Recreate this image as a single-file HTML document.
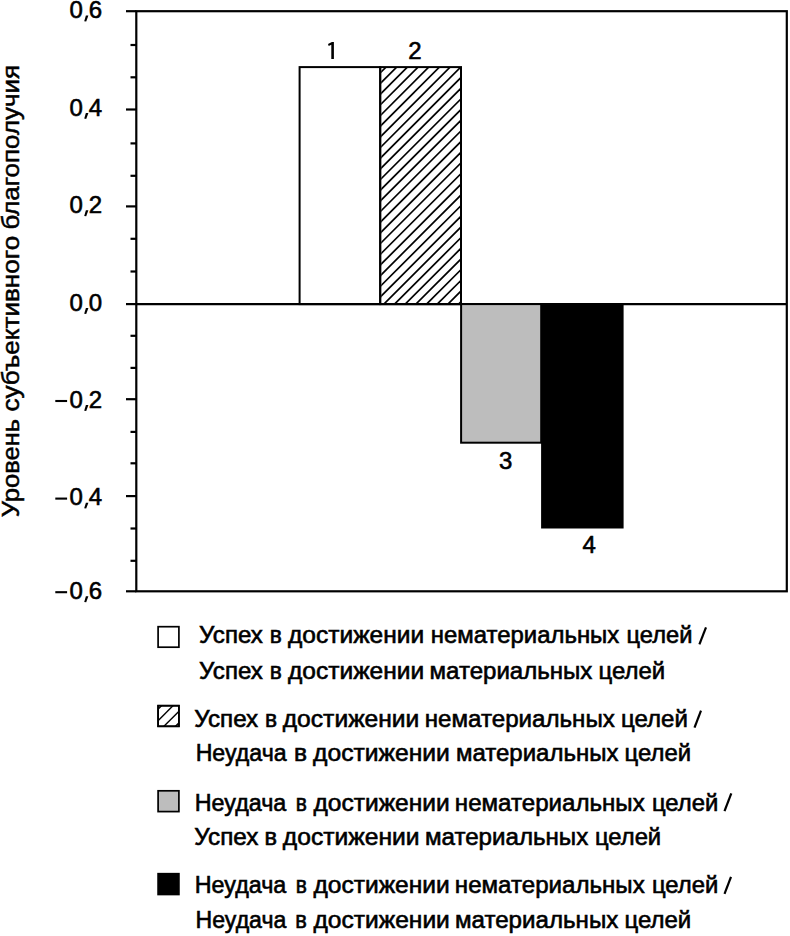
<!DOCTYPE html><html><head><meta charset="utf-8"><style>html,body{margin:0;padding:0;background:#fff;width:790px;height:936px;overflow:hidden}svg{display:block}text{font-family:"Liberation Sans", sans-serif;fill:#000}</style></head><body><svg width="790" height="936" viewBox="0 0 790 936"><defs><clipPath id="c2"><rect x="381.2" y="68.1" width="78.8" height="235"/></clipPath><clipPath id="lc2"><rect x="158.1" y="705.6" width="20.9" height="20.8"/></clipPath></defs><g stroke="#000" stroke-width="2.2" fill="none" stroke-linecap="butt"><rect x="136.3" y="11.2" width="650.5" height="580.1"/><line x1="126" y1="11.2" x2="136.3" y2="11.2"/><line x1="126" y1="109.5" x2="136.3" y2="109.5"/><line x1="126" y1="206.4" x2="136.3" y2="206.4"/><line x1="126" y1="304.1" x2="136.3" y2="304.1"/><line x1="126" y1="399.2" x2="136.3" y2="399.2"/><line x1="126" y1="496.1" x2="136.3" y2="496.1"/><line x1="126" y1="591.3" x2="136.3" y2="591.3"/><line x1="130.5" y1="45" x2="136.3" y2="45"/><line x1="130.5" y1="77.3" x2="136.3" y2="77.3"/><line x1="130.5" y1="143.4" x2="136.3" y2="143.4"/><line x1="130.5" y1="175.8" x2="136.3" y2="175.8"/><line x1="130.5" y1="238.8" x2="136.3" y2="238.8"/><line x1="130.5" y1="271.5" x2="136.3" y2="271.5"/><line x1="130.5" y1="335.8" x2="136.3" y2="335.8"/><line x1="130.5" y1="367.9" x2="136.3" y2="367.9"/><line x1="130.5" y1="431.9" x2="136.3" y2="431.9"/><line x1="130.5" y1="463.3" x2="136.3" y2="463.3"/><line x1="130.5" y1="528.5" x2="136.3" y2="528.5"/><line x1="130.5" y1="560.8" x2="136.3" y2="560.8"/><line x1="136.3" y1="304.1" x2="786.8" y2="304.1"/></g><rect x="299.6" y="67.1" width="80.6" height="237" fill="#fff" stroke="#000" stroke-width="2"/><g clip-path="url(#c2)" stroke="#000" stroke-width="1.7"><line x1="370" y1="83.12" x2="470" y2="-16.88"/><line x1="370" y1="93.80" x2="470" y2="-6.20"/><line x1="370" y1="104.48" x2="470" y2="4.48"/><line x1="370" y1="115.15" x2="470" y2="15.15"/><line x1="370" y1="125.83" x2="470" y2="25.83"/><line x1="370" y1="136.50" x2="470" y2="36.50"/><line x1="370" y1="147.18" x2="470" y2="47.18"/><line x1="370" y1="157.85" x2="470" y2="57.85"/><line x1="370" y1="168.52" x2="470" y2="68.52"/><line x1="370" y1="179.20" x2="470" y2="79.20"/><line x1="370" y1="189.87" x2="470" y2="89.87"/><line x1="370" y1="200.55" x2="470" y2="100.55"/><line x1="370" y1="211.22" x2="470" y2="111.22"/><line x1="370" y1="221.90" x2="470" y2="121.90"/><line x1="370" y1="232.57" x2="470" y2="132.57"/><line x1="370" y1="243.25" x2="470" y2="143.25"/><line x1="370" y1="253.92" x2="470" y2="153.92"/><line x1="370" y1="264.60" x2="470" y2="164.60"/><line x1="370" y1="275.27" x2="470" y2="175.27"/><line x1="370" y1="285.95" x2="470" y2="185.95"/><line x1="370" y1="296.62" x2="470" y2="196.62"/><line x1="370" y1="307.30" x2="470" y2="207.30"/><line x1="370" y1="317.97" x2="470" y2="217.97"/><line x1="370" y1="328.65" x2="470" y2="228.65"/><line x1="370" y1="339.32" x2="470" y2="239.32"/><line x1="370" y1="350.00" x2="470" y2="250.00"/><line x1="370" y1="360.67" x2="470" y2="260.67"/><line x1="370" y1="371.35" x2="470" y2="271.35"/><line x1="370" y1="382.02" x2="470" y2="282.02"/><line x1="370" y1="392.70" x2="470" y2="292.70"/><line x1="370" y1="403.37" x2="470" y2="303.37"/></g><rect x="380.2" y="67.1" width="80.8" height="237" fill="none" stroke="#000" stroke-width="2"/><rect x="461.1" y="304.1" width="80.1" height="138.6" fill="#bdbdbd" stroke="#000" stroke-width="2"/><rect x="542.1" y="304.1" width="80.5" height="223.4" fill="#000" stroke="#000" stroke-width="2"/><line x1="136.3" y1="304.1" x2="786.8" y2="304.1" stroke="#000" stroke-width="2"/><path d="M331.3 58.9 L333.9 58.9 L333.9 42.0 L331.9 42.0 L328.0 44.0 L328.7 46.1 L331.3 44.7 Z" fill="#000"/><text x="415" y="58.8" font-size="24" text-anchor="middle" stroke="#000" stroke-width="0.6">2</text><text x="505.6" y="469" font-size="24" text-anchor="middle" stroke="#000" stroke-width="0.6">3</text><text x="589.2" y="552.6" font-size="24" text-anchor="middle" stroke="#000" stroke-width="0.6">4</text><g font-size="24" text-anchor="middle" stroke="#000" stroke-width="0.6"><text x="76.3" y="18.2">0</text><text x="95.45" y="18.2">6</text></g><path d="M85.9 15.60 L88.4 15.60 L86.2 21.50 L84.2 21.20 Z"/><g font-size="24" text-anchor="middle" stroke="#000" stroke-width="0.6"><text x="76.3" y="115.6">0</text><text x="95.45" y="115.6">4</text></g><path d="M85.9 113.00 L88.4 113.00 L86.2 118.90 L84.2 118.60 Z"/><g font-size="24" text-anchor="middle" stroke="#000" stroke-width="0.6"><text x="76.3" y="212.9">0</text><text x="95.45" y="212.9">2</text></g><path d="M85.9 210.30 L88.4 210.30 L86.2 216.20 L84.2 215.90 Z"/><g font-size="24" text-anchor="middle" stroke="#000" stroke-width="0.6"><text x="76.3" y="310.7">0</text><text x="95.45" y="310.7">0</text></g><path d="M85.9 308.10 L88.4 308.10 L86.2 314.00 L84.2 313.70 Z"/><g font-size="24" text-anchor="middle" stroke="#000" stroke-width="0.6"><text x="76.3" y="407.7">0</text><text x="95.45" y="407.7">2</text></g><path d="M85.9 405.10 L88.4 405.10 L86.2 411.00 L84.2 410.70 Z"/><rect x="55.3" y="399.95" width="11.8" height="2.1"/><g font-size="24" text-anchor="middle" stroke="#000" stroke-width="0.6"><text x="76.3" y="505.3">0</text><text x="95.45" y="505.3">4</text></g><path d="M85.9 502.70 L88.4 502.70 L86.2 508.60 L84.2 508.30 Z"/><rect x="55.3" y="497.55" width="11.8" height="2.1"/><g font-size="24" text-anchor="middle" stroke="#000" stroke-width="0.6"><text x="76.3" y="598.9">0</text><text x="95.45" y="598.9">6</text></g><path d="M85.9 596.30 L88.4 596.30 L86.2 602.20 L84.2 601.90 Z"/><rect x="55.3" y="591.15" width="11.8" height="2.1"/><text transform="translate(19.1,517.32) rotate(-90)" x="0" y="0" font-size="24" stroke="#000" stroke-width="0.5" textLength="98.49" lengthAdjust="spacingAndGlyphs">Уровень</text><text transform="translate(19.1,411.50) rotate(-90)" x="0" y="0" font-size="24" stroke="#000" stroke-width="0.5" textLength="175.69" lengthAdjust="spacingAndGlyphs">субъективного</text><text transform="translate(19.1,229.55) rotate(-90)" x="0" y="0" font-size="24" stroke="#000" stroke-width="0.5" textLength="164.61" lengthAdjust="spacingAndGlyphs">благополучия</text><g stroke="#000" stroke-width="1.7"><rect x="158.1" y="626.7" width="20.8" height="20.5" fill="#fff"/><rect x="158.1" y="705.7" width="20.8" height="20.6" fill="#fff"/><rect x="158.1" y="790.8" width="20.8" height="20.8" fill="#bdbdbd"/><rect x="158.1" y="873.7" width="20.8" height="20.8" fill="#000"/></g><g clip-path="url(#lc2)" stroke="#000" stroke-width="1.4"><line x1="150" y1="717.20" x2="190" y2="677.20"/><line x1="150" y1="728.70" x2="190" y2="688.70"/><line x1="150" y1="740.20" x2="190" y2="700.20"/><line x1="150" y1="751.70" x2="190" y2="711.70"/></g><rect x="158.1" y="705.7" width="20.8" height="20.6" fill="none" stroke="#000" stroke-width="1.7"/><text x="199.13" y="643.21" font-size="23.5" stroke="#000" stroke-width="0.6" textLength="63.74" lengthAdjust="spacingAndGlyphs">Успех</text><text x="269.87" y="643.21" font-size="23.5" stroke="#000" stroke-width="0.6" textLength="12.08" lengthAdjust="spacingAndGlyphs">в</text><text x="288.07" y="643.21" font-size="23.5" stroke="#000" stroke-width="0.6" textLength="136.02" lengthAdjust="spacingAndGlyphs">достижении</text><text x="430.72" y="643.21" font-size="23.5" stroke="#000" stroke-width="0.6" textLength="188.58" lengthAdjust="spacingAndGlyphs">нематериальных</text><text x="626.53" y="643.21" font-size="23.5" stroke="#000" stroke-width="0.6" textLength="65.85" lengthAdjust="spacingAndGlyphs">целей</text><text x="199.13" y="678.51" font-size="23.5" stroke="#000" stroke-width="0.6" textLength="63.74" lengthAdjust="spacingAndGlyphs">Успех</text><text x="269.87" y="678.51" font-size="23.5" stroke="#000" stroke-width="0.6" textLength="12.08" lengthAdjust="spacingAndGlyphs">в</text><text x="288.07" y="678.51" font-size="23.5" stroke="#000" stroke-width="0.6" textLength="136.02" lengthAdjust="spacingAndGlyphs">достижении</text><text x="429.56" y="678.51" font-size="23.5" stroke="#000" stroke-width="0.6" textLength="162.78" lengthAdjust="spacingAndGlyphs">материальных</text><text x="598.51" y="678.51" font-size="23.5" stroke="#000" stroke-width="0.6" textLength="66.71" lengthAdjust="spacingAndGlyphs">целей</text><text x="194.26" y="726.91" font-size="23.5" stroke="#000" stroke-width="0.6" textLength="63.89" lengthAdjust="spacingAndGlyphs">Успех</text><text x="264.90" y="726.91" font-size="23.5" stroke="#000" stroke-width="0.6" textLength="12.10" lengthAdjust="spacingAndGlyphs">в</text><text x="282.77" y="726.91" font-size="23.5" stroke="#000" stroke-width="0.6" textLength="136.60" lengthAdjust="spacingAndGlyphs">достижении</text><text x="424.76" y="726.91" font-size="23.5" stroke="#000" stroke-width="0.6" textLength="190.03" lengthAdjust="spacingAndGlyphs">нематериальных</text><text x="621.02" y="726.91" font-size="23.5" stroke="#000" stroke-width="0.6" textLength="66.91" lengthAdjust="spacingAndGlyphs">целей</text><text x="195.67" y="761.40" font-size="23.5" stroke="#000" stroke-width="0.6" textLength="90.91" lengthAdjust="spacingAndGlyphs">Неудача</text><text x="294.11" y="761.40" font-size="23.5" stroke="#000" stroke-width="0.6" textLength="13.03" lengthAdjust="spacingAndGlyphs">в</text><text x="313.09" y="761.40" font-size="23.5" stroke="#000" stroke-width="0.6" textLength="136.82" lengthAdjust="spacingAndGlyphs">достижении</text><text x="455.93" y="761.40" font-size="23.5" stroke="#000" stroke-width="0.6" textLength="162.51" lengthAdjust="spacingAndGlyphs">материальных</text><text x="624.57" y="761.40" font-size="23.5" stroke="#000" stroke-width="0.6" textLength="66.49" lengthAdjust="spacingAndGlyphs">целей</text><text x="194.72" y="810.75" font-size="23.5" stroke="#000" stroke-width="0.6" textLength="91.57" lengthAdjust="spacingAndGlyphs">Неудача</text><text x="295.73" y="810.75" font-size="23.5" stroke="#000" stroke-width="0.6" textLength="11.14" lengthAdjust="spacingAndGlyphs">в</text><text x="313.41" y="810.75" font-size="23.5" stroke="#000" stroke-width="0.6" textLength="136.35" lengthAdjust="spacingAndGlyphs">достижении</text><text x="454.86" y="810.75" font-size="23.5" stroke="#000" stroke-width="0.6" textLength="189.83" lengthAdjust="spacingAndGlyphs">нематериальных</text><text x="651.93" y="810.75" font-size="23.5" stroke="#000" stroke-width="0.6" textLength="66.40" lengthAdjust="spacingAndGlyphs">целей</text><text x="194.26" y="844.55" font-size="23.5" stroke="#000" stroke-width="0.6" textLength="64.09" lengthAdjust="spacingAndGlyphs">Успех</text><text x="264.56" y="844.55" font-size="23.5" stroke="#000" stroke-width="0.6" textLength="12.52" lengthAdjust="spacingAndGlyphs">в</text><text x="282.86" y="844.55" font-size="23.5" stroke="#000" stroke-width="0.6" textLength="136.71" lengthAdjust="spacingAndGlyphs">достижении</text><text x="424.97" y="844.55" font-size="23.5" stroke="#000" stroke-width="0.6" textLength="163.29" lengthAdjust="spacingAndGlyphs">материальных</text><text x="594.93" y="844.55" font-size="23.5" stroke="#000" stroke-width="0.6" textLength="66.26" lengthAdjust="spacingAndGlyphs">целей</text><text x="194.72" y="892.90" font-size="23.5" stroke="#000" stroke-width="0.6" textLength="91.57" lengthAdjust="spacingAndGlyphs">Неудача</text><text x="295.73" y="892.90" font-size="23.5" stroke="#000" stroke-width="0.6" textLength="11.14" lengthAdjust="spacingAndGlyphs">в</text><text x="313.41" y="892.90" font-size="23.5" stroke="#000" stroke-width="0.6" textLength="136.35" lengthAdjust="spacingAndGlyphs">достижении</text><text x="454.86" y="892.90" font-size="23.5" stroke="#000" stroke-width="0.6" textLength="189.83" lengthAdjust="spacingAndGlyphs">нематериальных</text><text x="651.93" y="892.90" font-size="23.5" stroke="#000" stroke-width="0.6" textLength="66.40" lengthAdjust="spacingAndGlyphs">целей</text><text x="195.58" y="927.70" font-size="23.5" stroke="#000" stroke-width="0.6" textLength="90.75" lengthAdjust="spacingAndGlyphs">Неудача</text><text x="295.13" y="927.70" font-size="23.5" stroke="#000" stroke-width="0.6" textLength="11.59" lengthAdjust="spacingAndGlyphs">в</text><text x="313.56" y="927.70" font-size="23.5" stroke="#000" stroke-width="0.6" textLength="136.27" lengthAdjust="spacingAndGlyphs">достижении</text><text x="454.94" y="927.70" font-size="23.5" stroke="#000" stroke-width="0.6" textLength="163.38" lengthAdjust="spacingAndGlyphs">материальных</text><text x="624.42" y="927.70" font-size="23.5" stroke="#000" stroke-width="0.6" textLength="66.78" lengthAdjust="spacingAndGlyphs">целей</text><line x1="699.40" y1="644.30" x2="706.00" y2="627.30" stroke="#000" stroke-width="2.2" stroke-linecap="butt"/><line x1="694.50" y1="727.60" x2="701.00" y2="710.60" stroke="#000" stroke-width="2.2" stroke-linecap="butt"/><line x1="724.50" y1="811.20" x2="731.30" y2="793.40" stroke="#000" stroke-width="2.2" stroke-linecap="butt"/><line x1="724.50" y1="893.80" x2="731.00" y2="876.80" stroke="#000" stroke-width="2.2" stroke-linecap="butt"/></svg></body></html>
